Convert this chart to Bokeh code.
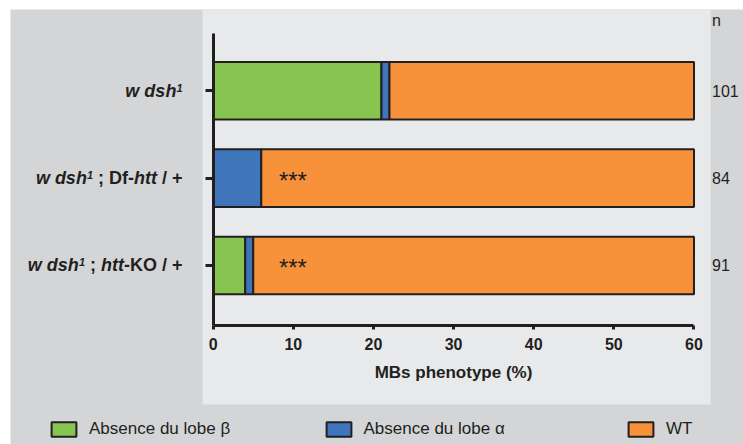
from bokeh.plotting import figure
from bokeh.models import (Range1d, FixedTicker, Label, Legend, LegendItem,
                          ColumnDataSource, BoxAnnotation)
from bokeh.core.properties import value
from bokeh.embed import file_html
from bokeh.resources import INLINE

# ---------------- data ----------------
genotypes = ["w dsh1", "w dsh1 ; Df-htt / +", "w dsh1 ; htt-KO / +"]
absence_beta = [21, 0, 4]
absence_alpha = [1, 6, 1]
wild_type = [78, 94, 95]
n_counts = [101, 84, 91]
significance = ["", "***", "***"]
x_ticks = [0, 10, 20, 30, 40, 50, 60]
series_names = ["Absence du lobe \u03b2", "Absence du lobe \u03b1", "WT"]
# rich tick labels: (text, style) ; style: bi = bold italic, b = bold, sup = superscript
label_segments = [
    [("w dsh", "bi"), ("1", "sup")],
    [("w dsh", "bi"), ("1", "sup"), (" ; Df-", "b"), ("htt", "bi"), (" / +", "b")],
    [("w dsh", "bi"), ("1", "sup"), (" ; ", "b"), ("htt", "bi"), ("-KO / +", "b")],
]

# ---------------- style ----------------
colors = ["#88c450", "#3f76bb", "#f7923b"]
DARK = "#231f20"
OUTER = "#d4d5d7"
PANEL = "#e8e9eb"
FONT = "Liberation Sans"
LABEL_SIZE = 18
SUP_SIZE = 11
BAR_H = 0.66
SIG_X = 8.2
Y_AXIS_MIN, Y_AXIS_MAX = 0.31, 3.66
W, H = 733, 435
PX_X = 8.013   # px per x unit
PX_Y = 87.33   # px per y unit
X0_PX = 212.7 - 10   # canvas px of x = 0
Y3_PX = 90.3 - 9     # canvas px (from top) of top category

# Arial / Liberation Sans Bold advance widths (per 1000 em)
BOLD_W = {' ': 278, 'w': 778, 'd': 611, 's': 556, 'h': 611, '1': 556, ';': 333,
          'D': 722, 'f': 333, '-': 333, 't': 333, '/': 278, '+': 584, 'K': 722, 'O': 778}


def text_width(t, size):
    return sum(BOLD_W.get(c, 556) for c in t) * size / 1000.0


n_rows = len(genotypes)
ypos = [n_rows - i for i in range(n_rows)]

left_beta = [0] * n_rows
right_beta = [b for b in absence_beta]
left_alpha = right_beta
right_alpha = [b + a for b, a in zip(absence_beta, absence_alpha)]
left_wt = right_alpha
x_max = x_ticks[-1]
right_wt = [min(l + w, x_max) for l, w in zip(left_wt, wild_type)]

x_start = -X0_PX / PX_X
x_end = (W - X0_PX) / PX_X
y_end = n_rows + Y3_PX / PX_Y
y_start = y_end - H / PX_Y

p = figure(width=W, height=H, margin=(9, 0, 0, 10),
           x_range=Range1d(x_start, x_end), y_range=Range1d(y_start, y_end),
           output_backend="svg", toolbar_location=None,
           min_border_left=0, min_border_right=0, min_border_top=0, min_border_bottom=0,
           background_fill_color=OUTER, border_fill_color=OUTER, outline_line_color=None)
p.grid.grid_line_color = None

# lighter inner panel (canvas px 192..700 x 0..395)
p.add_layout(BoxAnnotation(left=(192 - X0_PX) / PX_X, right=(700 - X0_PX) / PX_X,
                           top=y_end, bottom=y_end - 395 / PX_Y,
                           fill_color=PANEL, fill_alpha=1, line_color=None, level="underlay"))

renderers = []
for lefts, rights, col in [(left_beta, right_beta, colors[0]),
                           (left_alpha, right_alpha, colors[1]),
                           (left_wt, right_wt, colors[2])]:
    src = ColumnDataSource(dict(y=ypos, left=lefts, right=rights))
    r = p.hbar(y="y", left="left", right="right", height=BAR_H, source=src,
               fill_color=col, line_color=DARK, line_width=2)
    renderers.append(r)

# significance stars
sig_src = ColumnDataSource(dict(x=[SIG_X] * n_rows, y=ypos, t=significance))
p.text(x="x", y="y", text="t", source=sig_src, text_font=value(FONT),
       text_font_size="24px", text_color=DARK, text_baseline="middle", text_align="left",
       y_offset=2)

# axes
xa = p.xaxis[0]
xa.fixed_location = Y_AXIS_MIN
xa.bounds = (x_ticks[0], x_ticks[-1])
xa.ticker = FixedTicker(ticks=x_ticks)
xa.axis_line_width = 3
xa.axis_line_color = DARK
xa.major_tick_line_width = 3
xa.major_tick_line_color = DARK
xa.major_tick_out = 4
xa.major_tick_in = 0
xa.minor_tick_line_color = None
xa.major_label_text_font = FONT
xa.major_label_text_font_style = "bold"
xa.major_label_text_font_size = "16px"
xa.major_label_text_color = DARK
xa.major_label_standoff = 8
xa.axis_label = "MBs phenotype (%)"
xa.axis_label_text_font = FONT
xa.axis_label_text_font_style = "bold"
xa.axis_label_text_font_size = "17px"
xa.axis_label_text_color = DARK
xa.axis_label_standoff = 10

ya = p.yaxis[0]
ya.fixed_location = 0
ya.bounds = (Y_AXIS_MIN, Y_AXIS_MAX)
ya.ticker = FixedTicker(ticks=ypos)
ya.major_label_overrides = {y: "" for y in ypos}
ya.axis_line_width = 3
ya.axis_line_color = DARK
ya.major_tick_line_width = 3
ya.major_tick_line_color = DARK
ya.major_tick_out = 8
ya.major_tick_in = 0
ya.minor_tick_line_color = None

# rich category labels (right edge 30.7 px left of the axis)
RIGHT_EDGE = -30.7
for segs, y in zip(label_segments, ypos):
    widths = [text_width(t, SUP_SIZE if s == "sup" else LABEL_SIZE) for t, s in segs]
    x_cur = RIGHT_EDGE - sum(widths)
    for (t, s), w in zip(segs, widths):
        size = SUP_SIZE if s == "sup" else LABEL_SIZE
        lead = len(t) - len(t.lstrip(" "))
        lead_w = text_width(" " * lead, size)
        p.add_layout(Label(x=0, y=y, x_offset=x_cur + lead_w, y_offset=3 if s == "sup" else 0,
                           text=t.strip(" "), text_align="left", text_baseline="middle",
                           text_font=FONT,
                           text_font_style="bold" if s == "b" else "bold italic",
                           text_font_size=f"{size}px", text_color=DARK))
        x_cur += w

# n column
p.add_layout(Label(x=x_max, y=y_end, x_offset=18, y_offset=-11, text="n",
                   text_align="left", text_baseline="middle", text_font=FONT,
                   text_font_size="16px", text_color=DARK))
for n, y in zip(n_counts, ypos):
    p.add_layout(Label(x=x_max, y=y, x_offset=18, y_offset=0, text=str(n),
                       text_align="left", text_baseline="middle", text_font=FONT,
                       text_font_size="16px", text_color=DARK))

# legends (one per item, placed below the panel)
legend_x = [38, 312.5, 615]
for name, r, lx in zip(series_names, renderers, legend_x):
    lg = Legend(items=[LegendItem(label=name, renderers=[r])], location=(lx, 5),
                orientation="horizontal", glyph_width=31, glyph_height=18, label_standoff=10,
                label_text_font=FONT, label_text_font_size="17px", label_text_color=DARK,
                padding=0, margin=0, spacing=0, border_line_alpha=0, background_fill_alpha=0)
    p.add_layout(lg, "center")

open("out.html", "w").write(file_html(p, INLINE))
